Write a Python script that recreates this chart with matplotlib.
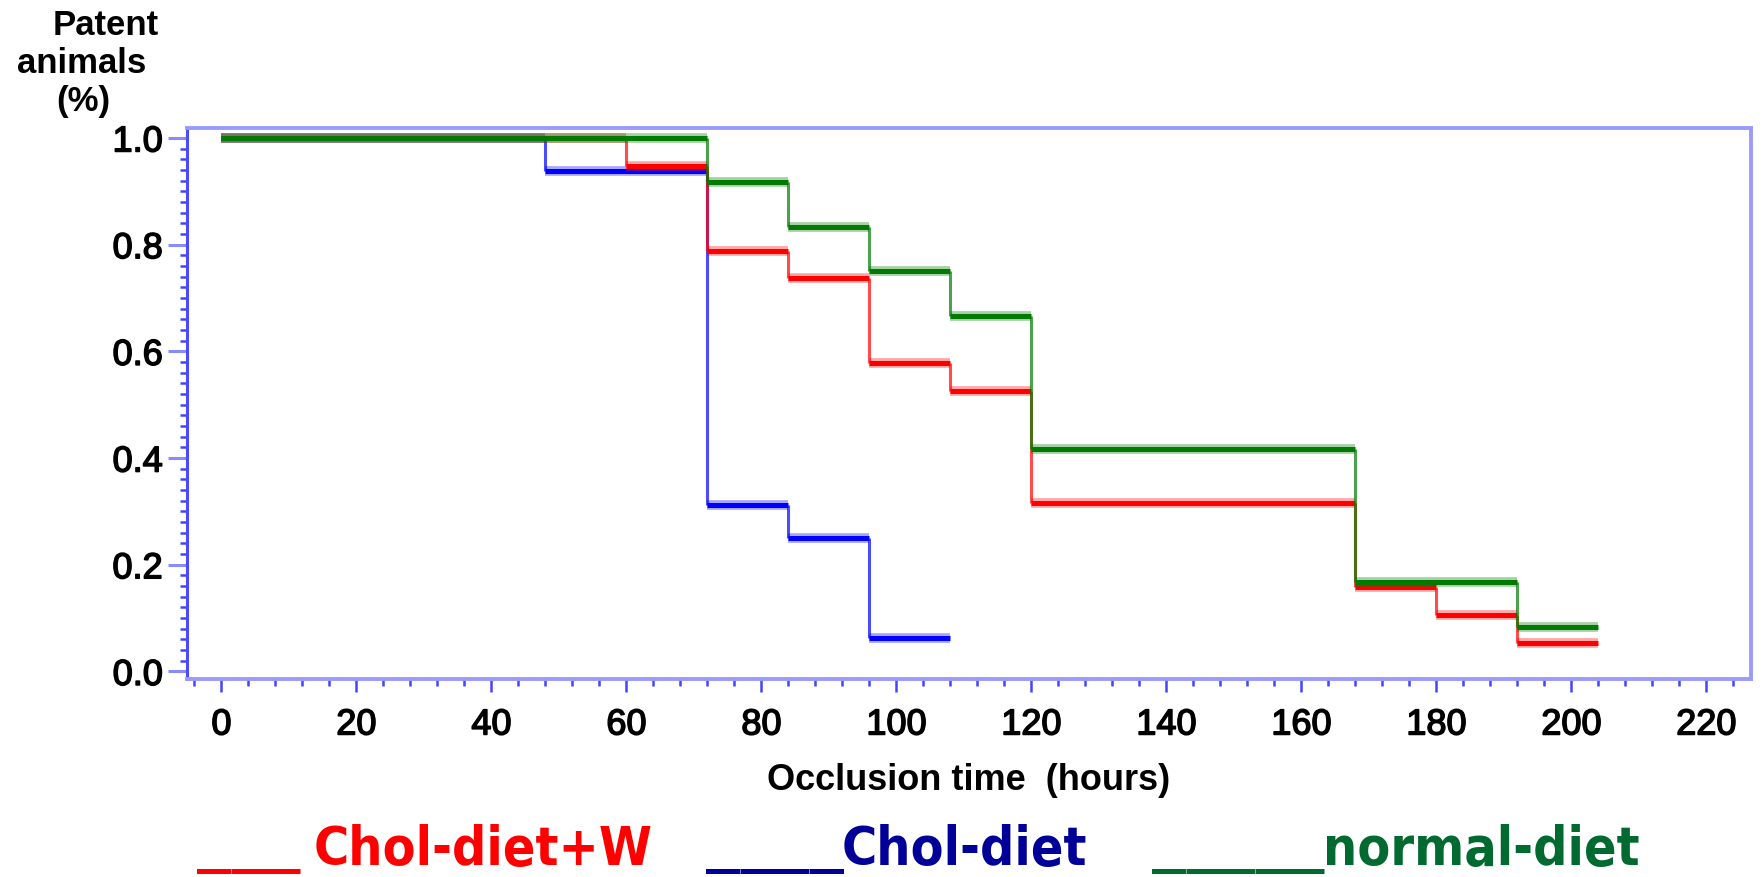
import matplotlib
matplotlib.use("Agg")
import matplotlib.pyplot as plt
import matplotlib.patheffects as pe
from matplotlib.ticker import MultipleLocator, FormatStrFormatter

# Kaplan-Meier style patency curves: event times (hours) and fraction patent
chol_w_times = [0, 60, 72, 84, 96, 108, 120, 168, 180, 192]
chol_w_surv = [1.0, 0.947, 0.789, 0.737, 0.579, 0.526, 0.316, 0.158, 0.105, 0.053]
chol_w_end = 204

chol_times = [0, 48, 72, 84, 96]
chol_surv = [1.0, 0.9375, 0.3125, 0.25, 0.0625]
chol_end = 108

normal_times = [0, 72, 84, 96, 108, 120, 168, 192]
normal_surv = [1.0, 0.917, 0.833, 0.75, 0.667, 0.417, 0.167, 0.083]
normal_end = 204

x_ticks = list(range(0, 221, 20))
y_ticks = [0.0, 0.2, 0.4, 0.6, 0.8, 1.0]

legend_labels = ["Chol-diet+W", "Chol-diet", "normal-diet"]
legend_bars = ["___", "____", "_____"]
legend_colors = ["#ff0000", "#000099", "#006a30"]

plt.rcParams["font.family"] = ["Liberation Sans", "DejaVu Sans"]

W, H = 1763, 878
fig = plt.figure(figsize=(W / 100, H / 100), dpi=100)
fig.patch.set_facecolor("white")

ax_l, ax_r, ax_t, ax_b = 187, 1751, 129, 680
ax = fig.add_axes([ax_l / W, 1 - ax_b / H, (ax_r - ax_l) / W, (ax_b - ax_t) / H])


def draw_curve(times, surv, end, color, z):
    ends = times[1:] + [end]
    # soft halo under the horizontal runs, then the solid core
    ax.hlines(surv, times, ends, colors=color, lw=7.0, alpha=0.35, zorder=z)
    ax.hlines(surv, times, ends, colors=color, lw=3.6, zorder=z + 0.1)
    # thin drops at each event time
    ax.vlines(times[1:], surv[1:], surv[:-1], colors=color, lw=2.2,
              alpha=0.7, zorder=z + 0.05)


draw_curve(chol_times, chol_surv, chol_end, "#0000ff", 3)
draw_curve(chol_w_times, chol_w_surv, chol_w_end, "#ff0000", 4)
draw_curve(normal_times, normal_surv, normal_end, "#007a00", 5)

ax.set_xlim(-5.1, 226.6)
ax.set_ylim(-0.0141, 1.0187)

ax.set_xticks(x_ticks)
ax.xaxis.set_minor_locator(MultipleLocator(4))
ax.set_yticks(y_ticks)
ax.yaxis.set_minor_locator(MultipleLocator(0.02))
ax.yaxis.set_major_formatter(FormatStrFormatter("%.1f"))

ax.tick_params(axis="x", which="major", direction="out", length=9.5, width=1.8,
               color="#4444ff", labelsize=26, pad=11)
ax.tick_params(axis="x", which="minor", direction="out", length=5, width=1.8,
               color="#4444ff")
ax.tick_params(axis="y", which="major", direction="out", length=13.5, width=2.2,
               color="#8a8aff", labelsize=26, pad=4)
ax.tick_params(axis="y", which="minor", direction="out", length=5, width=1.8,
               color="#4444ff")

# slightly heavier strokes for the tick numbers
heavy = [pe.withStroke(linewidth=1.1, foreground="black")]
for lbl in ax.get_xticklabels() + ax.get_yticklabels():
    lbl.set_path_effects(heavy)

for side in ["top", "right", "bottom"]:
    ax.spines[side].set_color("#9a9aff")
    ax.spines[side].set_linewidth(2.8)
ax.spines["left"].set_color("#4a4aff")
ax.spines["left"].set_linewidth(2.2)

ax.set_xlabel("Occlusion time  (hours)", fontsize=26, fontweight="bold")
ax.xaxis.label.set_va("baseline")
ax.xaxis.set_label_coords(0.5, (ax_b - 790) / (ax_b - ax_t))


def px_text(x, y, s, **kw):
    fig.text(x / W, 1 - y / H, s, **kw)


# stacked y-axis caption in the upper-left corner
px_text(106, 35, "Patent", ha="center", va="baseline", fontsize=25,
        fontweight="bold")
px_text(82, 73, "animals", ha="center", va="baseline", fontsize=25,
        fontweight="bold")
px_text(83, 111, "(%)", ha="center", va="baseline", fontsize=25,
        fontweight="bold")

# colour key along the bottom edge
bar_x = [197, 706, 1152]
label_x = [314, 842, 1323]
for bx, lx, bar, lab, col in zip(bar_x, label_x, legend_bars, legend_labels,
                                 legend_colors):
    px_text(bx, 861.5, bar, ha="left", va="baseline", fontsize=41.3,
            fontweight="bold", color=col, family=["DejaVu Sans Mono"])
    px_text(lx, 865, lab, ha="left", va="baseline", fontsize=38.5,
            fontweight="bold", color=col, fontstretch="condensed",
            family=["DejaVu Sans Condensed", "DejaVu Sans"])

fig.savefig("out.png", dpi=100, facecolor="white")
